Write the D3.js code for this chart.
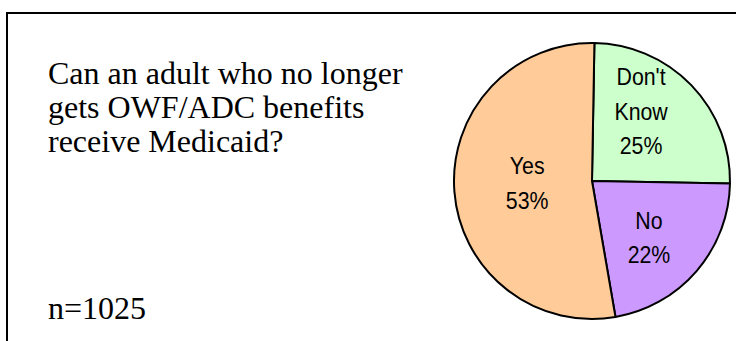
<!DOCTYPE html>
<html>
<head>
<meta charset="utf-8">
<script src="https://cdn.jsdelivr.net/npm/d3@7"></script>
<style>
  html, body { margin: 0; padding: 0; background: #fff; }
  svg { display: block; }
</style>
</head>
<body>
<script>
// ---- data ----
const categories = ["Don't Know", "No", "Yes"];
const labelLines = [["Don't", "Know"], ["No"], ["Yes"]];
const values = [25, 22, 53];
const colors = ["#CCFFCC", "#CC99FF", "#FFCC99"];
const titleLines = ["Can an adult who no longer", "gets OWF/ADC benefits", "receive Medicaid?"];
const noteText = "n=1025";

const W = 736, H = 341;
const svg = d3.select("body").append("svg").attr("width", W).attr("height", H);

// frame
svg.append("rect").attr("x", 7).attr("y", 13).attr("width", 760).attr("height", 360)
  .attr("fill", "none").attr("stroke", "#000").attr("stroke-width", 2);

// title
const title = svg.append("text").attr("font-family", "'Liberation Serif', 'Times New Roman', serif")
  .attr("font-size", 32).attr("fill", "#000");
titleLines.forEach((t, i) => {
  title.append("tspan").attr("x", 48).attr("y", 84 + i * 34).text(t);
});
svg.append("text").attr("x", 48).attr("y", 319)
  .attr("font-family", "'Liberation Serif', 'Times New Roman', serif")
  .attr("font-size", 32).attr("fill", "#000").text(noteText);

// pie
const cx = 592, cy = 181, R = 138;
const startOffset = 1 * Math.PI / 180;
const pie = d3.pie().sort(null).value(d => d)
  .startAngle(startOffset).endAngle(2 * Math.PI + startOffset);
const arcs = pie(values);
const arc = d3.arc().innerRadius(0).outerRadius(R);
const g = svg.append("g").attr("transform", `translate(${cx},${cy})`);
g.selectAll("path").data(arcs).enter().append("path")
  .attr("d", arc)
  .attr("fill", (d, i) => colors[i])
  .attr("stroke", "#000").attr("stroke-width", 2).attr("stroke-linejoin", "round");

// labels
const labelRadius = [0.62, 0.58, 0.47];
const labelAngleShift = [-11, 4, 3];
const lineH = 34.5;
arcs.forEach((d, i) => {
  const a = (d.startAngle + d.endAngle) / 2 + labelAngleShift[i] * Math.PI / 180;
  const r = R * labelRadius[i];
  const x = r * Math.sin(a), y = -r * Math.cos(a);
  const lines = labelLines[i].concat([Math.round(values[i]) + "%"]);
  const lg = g.append("g").attr("transform", `translate(${x},${y}) scale(0.87,1)`);
  const t = lg.append("text").attr("text-anchor", "middle")
    .attr("font-family", "'Liberation Sans', Arial, sans-serif")
    .attr("font-size", 24.5).attr("fill", "#000");
  const n = lines.length;
  lines.forEach((s, j) => {
    t.append("tspan").attr("x", 0)
      .attr("y", (j - (n - 1) / 2) * lineH + 9)
      .text(s);
  });
});
</script>
</body>
</html>
